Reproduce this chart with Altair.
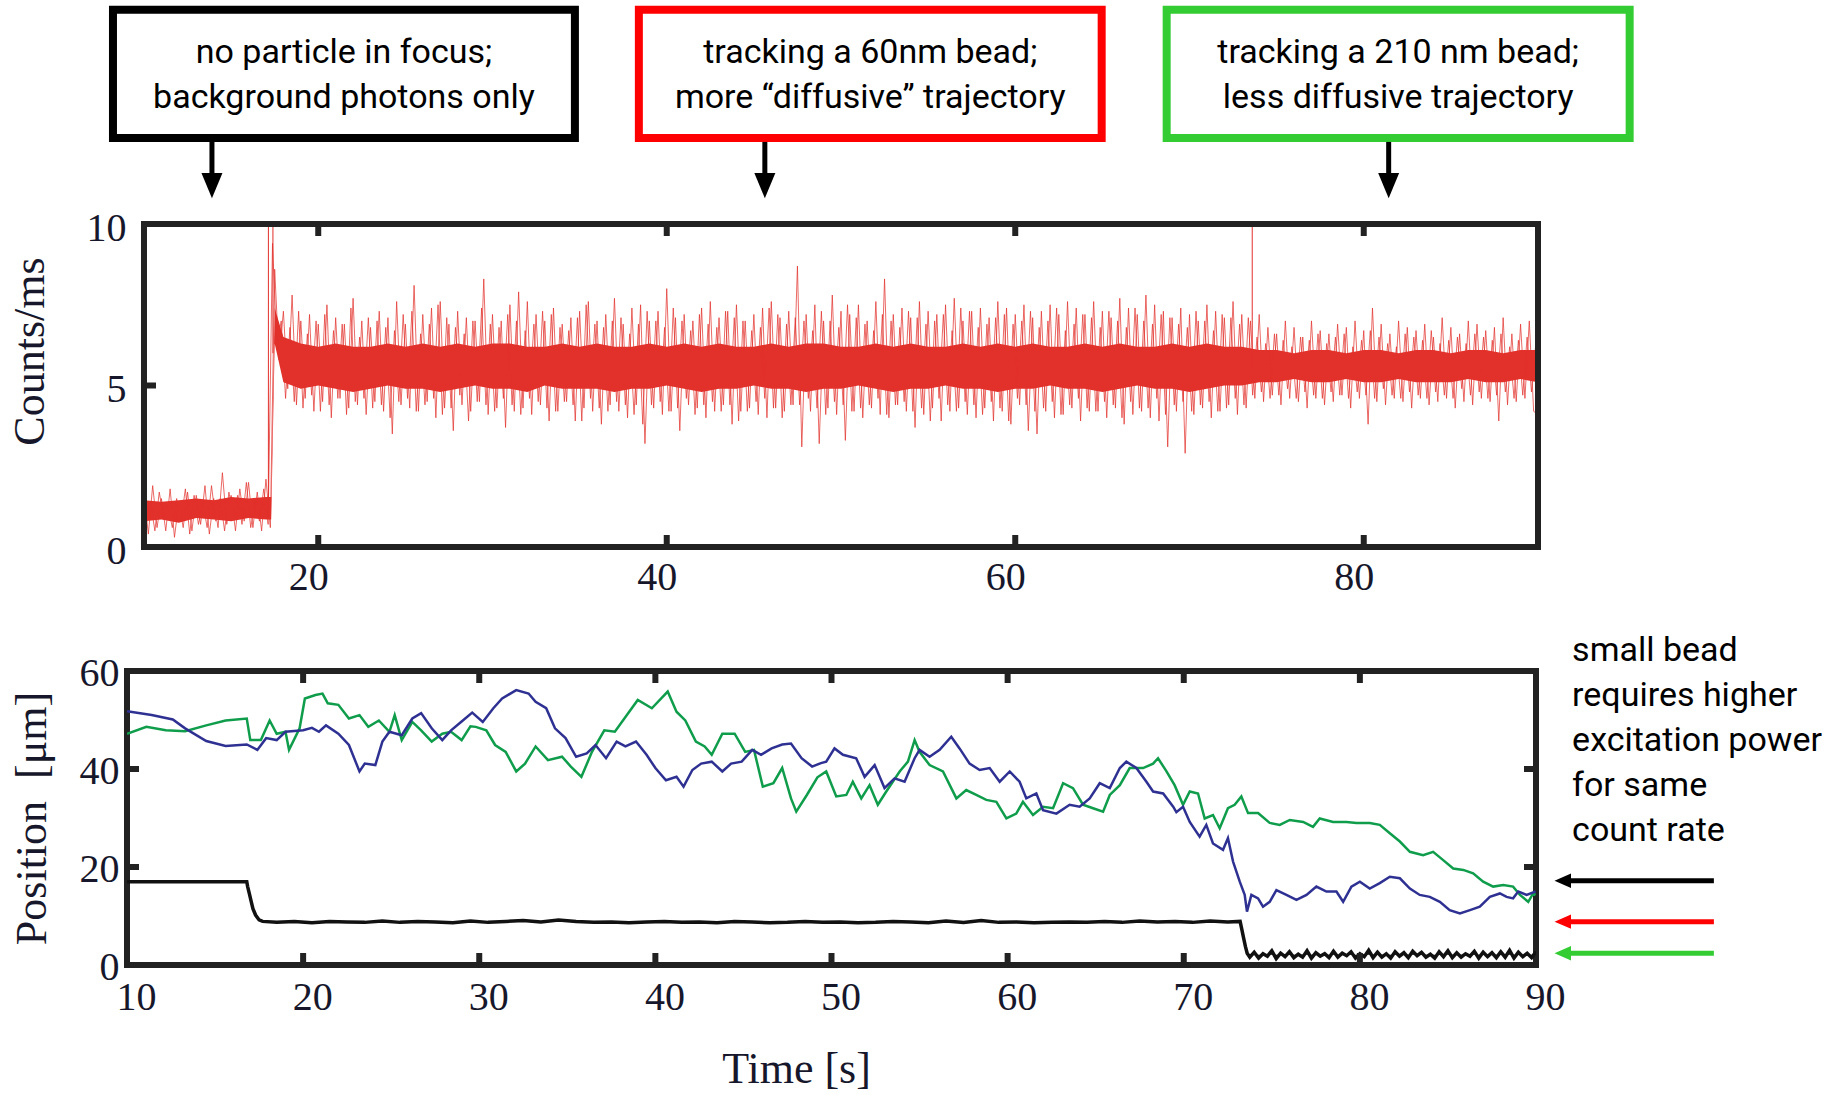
import altair as alt
import pandas as pd

# ---------------- top panel: photon count rate (Counts/ms) ----------------
# zig-zag of successive upper / lower excursions, one value every 0.25 s from t = 10 s
red_background = [1.6, 0.4, 1.9, 0.6, 1.5, 0.5, 1.8, 0.3, 1.4, 0.6,
                  1.7, 0.5, 1.6, 0.7, 1.9, 0.4, 1.5, 0.6, 2.3, 0.7,
                  1.6, 0.5, 1.8, 0.8, 2.0, 0.6, 1.7, 0.5, 2.1, 0.6]
red_bead_60nm = [8.6, 5.8, 7.3, 4.9,
                 7.8, 4.4, 7.0, 4.6,  7.2, 4.2, 6.9, 4.5,  7.5, 4.0, 7.1, 4.6,
                 6.9, 4.3, 7.7, 4.4,  7.0, 4.1, 6.8, 4.5,  7.3, 4.2, 7.1, 3.5,
                 7.6, 4.4, 6.9, 4.3,  8.1, 4.2, 7.2, 4.5,  7.4, 4.0, 7.6, 4.3,
                 6.9, 3.6, 7.3, 4.4,  7.1, 4.2, 7.0, 4.5,  8.3, 4.1, 7.2, 4.3,
                 7.0, 3.7, 7.5, 4.2,  7.9, 4.3, 7.6, 4.1,  7.2, 4.4, 7.0, 3.9,
                 7.4, 4.2, 6.9, 4.5,  7.1, 3.9, 7.3, 4.3,  7.6, 4.2, 7.0, 3.8,
                 7.2, 4.4, 7.7, 4.2,  6.9, 4.0, 7.4, 4.4,  7.5, 3.2, 7.0, 4.3,
                 7.3, 4.1, 8.0, 4.2,  7.1, 3.6, 7.2, 4.4,  7.0, 4.3, 7.4, 4.0,
                 7.6, 4.2, 7.1, 4.4,  7.3, 3.8, 7.5, 4.2,  7.0, 4.3, 7.2, 4.1,
                 7.4, 4.0, 7.6, 4.3,  7.1, 4.2, 7.3, 4.4,  8.7, 3.1, 7.2, 4.2,
                 7.5, 3.2, 7.0, 4.3,  7.8, 4.1, 7.3, 3.3,  7.2, 4.2, 7.5, 4.0,
                 7.0, 4.3, 7.6, 4.1,  8.3, 4.0, 7.2, 4.4,  7.4, 4.2, 7.1, 3.7,
                 7.6, 4.1, 7.3, 4.3,  7.2, 3.9, 7.5, 4.2,  7.7, 4.3, 7.0, 4.1,
                 7.3, 4.0, 7.4, 4.3,  7.1, 3.9, 7.6, 4.2,  7.4, 3.8, 7.2, 4.4,
                 7.5, 3.6, 7.1, 3.5,  7.3, 4.2, 7.5, 4.0,  7.2, 4.1, 7.6, 4.3,
                 7.4, 3.9, 7.2, 4.2,  7.6, 4.2, 7.3, 4.0,  7.1, 4.3, 7.7, 3.8,
                 7.4, 4.1, 7.2, 4.2,  7.8, 4.0, 7.5, 3.9,  7.3, 3.1, 7.1, 4.2,
                 7.4, 2.9, 7.2, 4.1,  7.0, 4.3, 7.5, 4.0,  7.3, 4.2, 7.1, 4.4,
                 7.6, 4.1, 7.2, 4.3,
                 7.0]
red_bead_210nm = [4.6,
                  7.2, 4.5, 6.8, 4.7,  6.6, 4.4, 7.0, 4.6,  6.8, 4.5, 6.5, 4.3,
                  7.0, 4.6, 6.7, 4.4,  6.6, 4.5, 6.9, 4.7,  6.8, 4.3, 7.0, 4.6,
                  6.7, 3.8, 7.4, 4.5,  6.9, 4.4, 6.6, 4.6,  7.0, 4.5, 6.8, 4.3,
                  6.7, 4.6, 6.9, 4.4,  6.5, 4.5, 7.1, 4.6,  6.8, 4.3, 6.6, 4.5,
                  7.0, 4.4, 6.9, 4.6,  6.7, 4.5, 6.8, 3.9,  7.1, 4.4, 6.6, 4.5,
                  6.9, 4.6, 7.0, 4.2,
                  4.1]
red_counts = red_background + red_bead_60nm + red_bead_210nm
red_time = [10 + 0.25 * i for i in range(len(red_counts))]

# in-between samples (t = 10.125 s + 0.25 s steps), opposite phase
red2_background = [0.7, 1.4, 0.5, 1.7, 0.9, 1.3, 0.6, 1.5, 0.8, 1.8,
                   0.4, 1.6, 0.7, 1.4, 0.6, 1.9, 0.8, 1.5, 0.5, 1.7,
                   0.9, 1.6, 0.7, 2.0, 0.6, 1.4, 0.8, 1.8, 0.7]
red2_bead_60nm = [9.4, 6.2, 7.0, 4.6,
                  6.8, 4.5, 7.3, 4.3,  6.6, 4.7, 7.0, 4.2,  7.2, 4.4, 6.7, 4.6,
                  6.9, 4.1, 7.4, 4.5,  6.5, 4.6, 7.1, 4.3,  7.0, 4.4, 6.8, 4.0,
                  6.7, 4.5, 7.2, 4.6,  7.3, 4.2, 6.6, 4.4,  6.9, 4.6, 7.5, 4.1,
                  7.1, 4.3, 6.8, 4.7,  6.6, 3.9, 7.0, 4.5,  7.4, 4.4, 6.9, 4.2,
                  6.8, 4.6, 7.2, 4.4,  7.0, 4.1, 6.7, 4.6,  6.9, 4.5, 7.3, 4.3,
                  7.2, 4.2, 6.8, 4.5,  6.7, 4.4, 7.1, 3.9,  7.5, 4.6, 6.9, 4.3,
                  6.8, 4.2, 7.0, 4.5,  7.1, 4.4, 6.6, 4.1,  6.9, 3.8, 7.3, 4.4,
                  7.0, 4.5, 6.8, 4.2,  7.4, 4.3, 7.0, 4.6,  6.7, 4.1, 7.2, 4.4,
                  6.9, 4.5, 6.8, 4.2,  7.3, 4.4, 7.1, 3.9,  7.0, 4.2, 6.7, 4.5,
                  6.8, 4.6, 7.4, 4.3,  7.2, 4.0, 6.9, 4.4,  7.1, 4.4, 7.0, 4.6,
                  6.7, 4.3, 7.3, 4.1,  7.0, 4.5, 6.8, 4.4,  7.5, 4.2, 7.1, 4.3,
                  6.9, 4.4, 6.7, 4.6,  7.2, 4.1, 7.0, 4.4,  6.8, 4.5, 7.3, 4.2,
                  7.1, 4.3, 6.9, 3.9,  7.0, 4.6, 7.2, 4.4,  6.7, 4.2, 7.4, 4.5,
                  7.3, 4.4, 6.8, 4.1,  6.9, 4.5, 7.1, 4.3,  7.2, 3.9, 6.9, 4.6,
                  7.0, 4.4, 7.3, 4.2,  6.8, 4.3, 7.0, 4.5,  7.4, 4.1, 6.7, 4.4,
                  6.9, 4.6, 7.2, 4.3,  7.1, 4.2, 6.8, 4.5,  7.3, 4.4, 7.0, 4.0,
                  6.8, 4.5, 7.4, 4.3,  7.0, 4.3, 6.9, 4.6,  7.2, 4.1, 7.1, 4.4,
                  6.9, 4.5, 6.8, 4.2,  7.3, 4.4, 7.0, 4.5,  6.7, 4.2, 7.2, 4.3,
                  7.1, 4.6, 6.9, 4.4,
                  7.1]
red2_bead_210nm = [4.7,
                   6.5, 4.8, 6.3, 4.6,  6.6, 4.7, 6.4, 4.9,  6.2, 4.6, 6.5, 4.8,
                   6.4, 4.7, 6.6, 4.6,  6.3, 4.8, 6.5, 4.7,  6.6, 4.6, 6.2, 4.8,
                   6.4, 4.7, 6.7, 4.6,  6.5, 4.9, 6.3, 4.7,  6.2, 4.6, 6.6, 4.8,
                   6.5, 4.7, 6.4, 4.6,  6.7, 4.8, 6.3, 4.7,  6.4, 4.6, 6.5, 4.9,
                   6.3, 4.7, 6.6, 4.8,  6.5, 4.6, 6.4, 4.7,  6.6, 4.8, 6.2, 4.6,
                   6.4, 4.7, 6.5, 4.8,
                   6.3]
red2_counts = red2_background + red2_bead_60nm + red2_bead_210nm
red2_time = [10.125 + 0.25 * i for i in range(len(red2_counts))]

# dense core of the count-rate trace
core_time = [10, 11, 12, 13, 14, 15, 16, 17, 17.3, 17.5] + list(range(18, 91))
core_low = ([0.8, 0.85, 0.75, 0.9, 0.85, 0.8, 0.9, 0.85, 0.85, 6.3, 5.1]
            + [4.9, 5.0, 4.9, 4.8, 4.9, 5.0, 4.9, 4.9, 4.8, 4.9,
               5.0, 4.9, 4.9, 4.8, 5.0, 4.9, 4.9, 4.9, 4.8, 4.9,
               4.9, 5.0, 4.9, 4.8, 4.9, 4.9, 5.0, 4.9, 4.9, 4.8,
               4.9, 4.9, 5.0, 4.9, 4.8, 4.9, 4.9, 5.0, 4.9, 4.9,
               4.8, 4.9, 4.9, 5.0, 4.9, 4.9, 4.8, 4.9, 5.0, 4.9,
               4.9, 4.8, 4.9, 5.0, 5.0]
            + [5.1, 5.1, 5.2, 5.1, 5.1, 5.2, 5.1, 5.1, 5.2, 5.1, 5.1, 5.1, 5.2, 5.1, 5.1, 5.2, 5.1])
core_high = ([1.45, 1.4, 1.45, 1.5, 1.45, 1.55, 1.5, 1.55, 1.55, 7.4, 6.5]
             + [6.3, 6.2, 6.3, 6.2, 6.2, 6.3, 6.2, 6.3, 6.2, 6.3,
                6.2, 6.3, 6.3, 6.2, 6.2, 6.3, 6.2, 6.3, 6.2, 6.2,
                6.3, 6.2, 6.3, 6.2, 6.3, 6.2, 6.2, 6.3, 6.2, 6.3,
                6.3, 6.2, 6.2, 6.3, 6.2, 6.3, 6.2, 6.2, 6.3, 6.2,
                6.3, 6.2, 6.3, 6.2, 6.2, 6.3, 6.2, 6.3, 6.2, 6.2,
                6.3, 6.2, 6.3, 6.2, 6.2]
             + [6.1, 6.1, 6.0, 6.1, 6.1, 6.0, 6.1, 6.1, 6.0, 6.1, 6.1, 6.0, 6.1, 6.1, 6.0, 6.1, 6.1])

# single saturating bursts
burst_time = [17.14, 17.4, 73.6]
burst_low = [1.5, 6.0, 5.6]
burst_high = [10, 10, 10]

# ---------------- bottom panel: positions ----------------
blue_time = [10.0, 11.4, 12.6, 13.3, 14.5, 15.6, 16.8, 17.4, 17.9, 18.5, 19.0, 20.0, 20.5, 20.9,
             21.3, 22.0, 22.6, 23.2, 23.5, 24.1, 24.5, 24.9, 25.6, 26.2, 26.7, 27.3, 27.9, 28.4,
             29.0, 29.6, 30.2, 30.8, 31.3, 32.1, 32.8, 33.2, 33.8, 34.3, 34.9, 35.5, 36.1, 36.6,
             37.2, 37.8, 38.3, 38.9, 39.5, 40.0, 40.6, 41.2, 41.6, 42.1, 42.6, 43.2, 43.8, 44.3,
             44.9, 45.5, 46.0, 46.6, 47.2, 47.7, 48.3, 48.9, 49.4, 49.7, 50.17, 50.65, 51.4, 51.88,
             52.45, 53.01, 53.58, 54.15, 54.72, 55.0, 55.57, 56.14, 56.8, 57.27, 57.84, 58.41,
             58.98, 59.55, 60.12, 60.68, 61.06, 61.63, 62.01, 62.77, 63.52, 64.09, 64.66, 65.23,
             65.8, 66.37, 66.74, 67.31, 67.88, 68.26, 68.83, 69.4, 69.58, 69.96, 70.34, 70.9,
             71.28, 71.66, 72.23, 72.51, 72.8, 73.18, 73.46, 73.59, 73.84, 74.22, 74.5, 74.88,
             75.26, 75.83, 76.4, 76.97, 77.53, 78.1, 78.67, 79.05, 79.52, 80.0, 80.56, 81.13,
             81.7, 82.27, 82.84, 83.4, 83.97, 84.54, 85.1, 85.68, 86.25, 86.81, 87.38, 87.95,
             88.33, 88.7, 88.99, 89.47, 89.98]
blue_pos = [51.8, 51.0, 50.1, 48.3, 45.7, 44.7, 45.0, 43.9, 46.3, 45.9, 47.6, 47.9, 48.4, 47.6,
            48.9, 47.2, 44.9, 39.5, 41.1, 40.8, 45.6, 47.6, 46.9, 50.3, 51.4, 48.3, 45.9, 47.9,
            49.7, 51.5, 49.6, 52.4, 54.4, 56.1, 55.4, 53.7, 52.4, 48.3, 46.3, 42.5, 43.2, 44.9,
            42.2, 45.6, 44.6, 45.6, 42.9, 40.2, 37.7, 38.4, 36.4, 39.8, 41.1, 41.5, 39.5, 41.1,
            41.5, 43.9, 42.9, 44.2, 45.0, 45.2, 42.2, 40.5, 41.2, 41.5, 44.2, 42.9, 42.2, 38.4,
            40.8, 36.1, 38.1, 37.4, 42.2, 43.9, 42.5, 43.9, 46.6, 44.2, 41.1, 39.8,
            40.2, 37.4, 39.5, 37.4, 34.0, 35.0, 31.6, 30.9, 32.7, 32.3, 34.0, 37.1,
            36.1, 40.2, 41.5, 40.2, 37.4, 35.4, 35.0, 32.3, 31.2, 32.3, 29.2, 26.2,
            28.6, 24.8, 23.5, 25.9, 21.1, 17.0, 14.3, 10.9, 14.3, 13.6, 11.9, 12.9,
            15.3, 14.3, 13.3, 14.3, 16.0, 15.0, 15.0, 12.9, 16.0, 17.0, 15.6, 16.7,
            18.0, 17.7, 15.6, 14.3, 13.9, 12.9, 11.2, 10.5, 11.2, 11.9, 13.9, 14.6,
            13.9, 13.6, 15.0, 14.3, 15.0]

green_time = [10.0, 11.1, 12.2, 13.3, 14.5, 15.6, 16.8, 17.0, 17.6, 18.1, 18.5, 19.0, 19.2, 19.8,
              20.1, 20.7, 21.1, 21.4, 22.0, 22.6, 23.2, 23.7, 24.3, 24.9, 25.2, 25.6, 26.2, 26.7,
              27.3, 27.9, 28.4, 29.0, 29.5, 29.8, 30.4, 30.9, 31.5, 32.1, 32.6, 33.2, 33.9, 34.7,
              35.2, 35.8, 36.4, 37.1, 37.7, 38.3, 39.0, 39.8, 40.7, 41.2, 41.7, 42.3, 42.8, 43.2,
              43.8, 44.5, 45.1, 45.6, 46.1, 46.7, 47.2, 47.7, 48.0, 48.6, 49.2, 49.7, 50.27, 50.84,
              51.21, 51.69, 52.16, 52.63, 53.11, 53.87, 54.34, 54.72, 55.0, 55.57, 56.33, 57.09,
              57.65, 58.22, 58.79, 59.36, 59.93, 60.49, 60.87, 61.44, 62.01, 62.58, 63.15, 63.71,
              64.28, 64.85, 65.42, 65.8, 66.37, 66.93, 67.69, 68.26, 68.54, 69.02, 69.48, 69.96,
              70.34, 70.81, 71.19, 71.66, 72.04, 72.51, 72.89, 73.27, 73.65, 74.22, 74.88, 75.45,
              76.02, 76.78, 77.34, 77.72, 78.48, 79.24, 79.81, 80.56, 81.13, 81.7, 82.27, 82.84,
              83.59, 84.16, 84.73, 85.3, 85.87, 86.43, 87.0, 87.57, 88.14, 88.7, 89.09, 89.56,
              89.84, 89.98]
green_pos = [47.2, 48.6, 47.9, 47.7, 48.9, 49.9, 50.3, 45.9, 45.9, 49.9, 47.2, 47.6, 43.9, 48.3,
             54.4, 55.1, 55.4, 53.4, 53.1, 50.3, 51.0, 48.6, 49.9, 47.6, 51.0, 45.9, 49.6, 47.9,
             45.6, 47.2, 47.6, 45.9, 48.7, 48.6, 47.9, 44.9, 43.5, 39.5, 41.1, 44.6, 41.8, 42.5,
             40.5, 38.4, 43.5, 47.9, 47.6, 50.6, 54.1, 52.4, 55.8, 51.7, 49.9, 45.6, 44.6, 42.9,
             47.2, 47.2, 43.5, 43.9, 36.4, 37.1, 40.2, 34.0, 31.3, 34.7, 38.3, 39.5, 34.4, 34.7,
             37.4, 34.0, 36.7, 32.7, 35.4, 39.5, 41.5, 45.9, 43.5, 40.8, 39.5, 34.0,
             35.7, 34.7, 33.7, 33.3, 29.9, 30.9, 33.3, 30.6, 32.3, 32.0, 37.1, 36.1,
             32.7, 32.0, 31.3, 34.7, 36.7, 40.2, 40.2, 41.1, 42.2, 39.5, 36.7, 32.7,
             35.4, 35.0, 29.9, 30.6, 27.9, 32.0, 32.7, 34.4, 31.0, 31.0, 29.0, 28.6,
             29.6, 29.2, 28.2, 29.9, 29.2, 29.2, 29.0, 29.0, 28.6, 26.9, 25.2, 23.1,
             22.4, 23.1, 21.4, 19.7, 19.4, 18.7, 17.0, 16.0, 16.3, 16.0, 14.3, 12.9,
             14.6, 14.3]

black_time = [10.0, 16.8, 16.85, 16.95, 17.05, 17.15, 17.3, 17.5, 17.7,
              18.5, 19.5, 20.5, 21.5, 22.5, 23.5, 24.5, 25.5, 26.5, 27.5, 28.5, 29.5, 30.5,
              31.5, 32.5, 33.5, 34.5, 35.5, 36.5, 37.5, 38.5, 39.5, 40.5, 41.5, 42.5, 43.5,
              44.5, 45.5, 46.5, 47.5, 48.5, 49.5, 50.5, 51.5, 52.5, 53.5, 54.5, 55.5, 56.5,
              57.5, 58.5, 59.5, 60.5, 61.5, 62.5, 63.5, 64.5, 65.5, 66.5, 67.5, 68.5, 69.5,
              70.5, 71.5, 72.5, 73.2, 73.3, 73.4, 73.5, 73.6]
black_pos = [17.0, 17.0, 16.0, 14.5, 13.0, 11.5, 10.2, 9.2, 8.9,
             8.7, 8.9, 8.6, 8.9, 8.8, 8.7, 9.0, 8.7, 8.9, 8.8, 8.6, 9.0, 8.7,
             8.9, 9.1, 8.8, 9.2, 8.9, 8.7, 8.8, 8.6, 8.8, 8.9, 8.7, 8.8, 8.6,
             8.9, 8.8, 8.6, 8.7, 8.9, 8.7, 8.8, 8.6, 8.7, 8.9, 8.8, 8.6, 9.0,
             8.7, 9.1, 8.7, 8.8, 8.6, 8.7, 8.8, 8.7, 8.9, 8.7, 9.0, 8.8, 8.9,
             8.7, 9.0, 8.8, 8.9, 7.2, 5.5, 3.8, 2.4]
# 210 nm bead level: zig-zag every 0.25 s from t = 73.75 s, around a mean of 2.1
black_late_mean = 2.1
black_late = [1.6, 2.6, 1.4, 2.3, 1.8, 2.9, 1.3, 2.4, 1.7, 2.7,
              1.5, 2.2, 1.6, 2.9, 1.4, 2.5, 1.8, 2.3, 1.5, 2.8,
              1.6, 2.4, 1.9, 2.7, 1.4, 2.3, 1.7, 3.0, 1.5, 2.6,
              1.6, 2.3, 1.4, 2.7, 1.8, 2.5, 1.5, 2.8, 1.9, 2.6,
              1.6, 2.2, 1.4, 2.7, 1.7, 2.9, 1.5, 2.5, 1.6, 2.3,
              1.8, 2.8, 1.4, 2.6, 1.7, 2.5, 1.5, 2.7, 1.6, 3.0,
              1.4, 2.6, 1.7, 2.4, 1.5, 2.7]
black_late_time = [73.75 + 0.25 * i for i in range(len(black_late))]
black_time_all = black_time + black_late_time
black_pos_all = black_pos + black_late

# ---------------- annotations ----------------
box_text_1 = ["no particle in focus;", "tracking a 60nm bead;", "tracking a 210 nm bead;"]
box_text_2 = ["background photons only", "more \u201cdiffusive\u201d trajectory", "less diffusive trajectory"]
box_colors = ["#000000", "#ff0000", "#33cc33"]
box_left = [8.22, 38.40, 68.69]
box_right = [34.73, 64.96, 95.26]
box_bottom, box_top = 12.66, 16.63
box_line1_y, box_line2_y = 14.97, 13.58
arrow_x = [13.90, 45.63, 81.43]
arrow_top, arrow_bottom, arrow_head = 12.54, 11.52, 11.19

side_lines = ["small bead", "requires higher", "excitation power", "for same", "count rate"]
side_y = [62.0, 52.8, 43.65, 34.45, 25.25]
side_x = 92.05
level_arrow_y = [17.2, 8.84, 2.39]
level_arrow_colors = ["#000000", "#ff0000", "#33cc33"]
level_arrow_tail, level_arrow_base, level_arrow_head = 100.1, 91.9, 91.52

# ---------------- styling ----------------
RED = "#e2302b"
BLUE = "#2e3192"
GREEN = "#0f9d4c"
FRAME = "#222222"
SERIF = "Liberation Serif"
SANS = "Liberation Sans Narrow, Roboto, sans-serif"
TXT = 34
W_TOP, H_TOP = 1411, 323
W_BOT, H_BOT = 1409, 294

# the top panel's frame starts a little to the right of the bottom panel's frame
xs_top = alt.Scale(domain=[9.025, 90], nice=False, zero=False)
ys_top = alt.Scale(domain=[0, 10], nice=False)
xs_bot = alt.Scale(domain=[10, 90], nice=False, zero=False)
ys_bot = alt.Scale(domain=[0, 60], nice=False)

# ---------------- top panel ----------------
core_df = pd.DataFrame({"t": core_time, "lo": core_low, "hi": core_high})
red_df = pd.DataFrame({"t": red_time, "v": red_counts})
red2_df = pd.DataFrame({"t": red2_time, "v": red2_counts})
burst_df = pd.DataFrame({"t": burst_time, "lo": burst_low, "hi": burst_high})

core = alt.Chart(core_df).mark_area(color=RED, clip=True).encode(
    x=alt.X("t:Q", scale=xs_top,
            axis=alt.Axis(values=[20, 40, 60, 80], title=None, labelOffset=-10, labelPadding=10)),
    y=alt.Y("lo:Q", scale=ys_top,
            axis=alt.Axis(values=[0, 5, 10], title="Counts/ms", labelPadding=1, titlePadding=34,
                          titleY=127, labelOffset=4)),
    y2="hi:Q",
)
zig = alt.Chart(red_df).mark_line(color=RED, strokeWidth=1, opacity=0.72, clip=True).encode(
    x=alt.X("t:Q", scale=xs_top),
    y=alt.Y("v:Q", scale=ys_top),
)
zig2 = alt.Chart(red2_df).mark_line(color=RED, strokeWidth=1, opacity=0.72, clip=True).encode(
    x=alt.X("t:Q", scale=xs_top),
    y=alt.Y("v:Q", scale=ys_top),
)
bursts = alt.Chart(burst_df).mark_rule(color=RED, strokeWidth=1, clip=True).encode(
    x=alt.X("t:Q", scale=xs_top),
    y=alt.Y("lo:Q", scale=ys_top),
    y2="hi:Q",
)

frame_df = pd.DataFrame({"x1": [10], "x2": [90], "y1": [0], "y2": [10]})
top_frame = alt.Chart(frame_df).mark_rect(filled=False, stroke=FRAME, strokeWidth=6,
                                          clip=False).encode(
    x=alt.X("x1:Q", scale=xs_top), x2="x2:Q",
    y=alt.Y("y1:Q", scale=ys_top), y2="y2:Q",
)
top_xt = pd.DataFrame({"t": [20, 40, 60, 80]})
top_yt = pd.DataFrame({"v": [5], "x1": [10], "x2": [10.69]})
tick_top_a = alt.Chart(top_xt).mark_rule(color=FRAME, strokeWidth=6).encode(
    x=alt.X("t:Q", scale=xs_top), y=alt.value(0), y2=alt.value(12))
tick_top_b = alt.Chart(top_xt).mark_rule(color=FRAME, strokeWidth=6).encode(
    x=alt.X("t:Q", scale=xs_top), y=alt.value(H_TOP), y2=alt.value(H_TOP - 12))
tick_top_l = alt.Chart(top_yt).mark_rule(color=FRAME, strokeWidth=6).encode(
    y=alt.Y("v:Q", scale=ys_top), x=alt.X("x1:Q", scale=xs_top), x2="x2:Q")

box_df = pd.DataFrame({"x1": box_left, "x2": box_right, "c": box_colors,
                       "y1": [box_bottom] * 3, "y2": [box_top] * 3})
boxes = alt.Chart(box_df).mark_rect(filled=False, strokeWidth=8, clip=False).encode(
    x=alt.X("x1:Q", scale=xs_top), x2="x2:Q",
    y=alt.Y("y1:Q", scale=ys_top), y2="y2:Q",
    stroke=alt.Stroke("c:N", scale=None),
)
txt_df = pd.DataFrame({
    "x": [(a + b) / 2 for a, b in zip(box_left, box_right)] * 2,
    "y": [box_line1_y] * 3 + [box_line2_y] * 3,
    "label": box_text_1 + box_text_2,
})
box_txt = alt.Chart(txt_df).mark_text(font=SANS, fontSize=TXT, align="center",
                                      baseline="alphabetic", color="#000000", clip=False).encode(
    x=alt.X("x:Q", scale=xs_top),
    y=alt.Y("y:Q", scale=ys_top),
    text="label:N",
)
arr_df = pd.DataFrame({"x": arrow_x, "y1": [arrow_top] * 3, "y2": [arrow_bottom] * 3,
                       "yh": [arrow_head] * 3})
arr_shaft = alt.Chart(arr_df).mark_rule(color="#000000", strokeWidth=5, clip=False).encode(
    x=alt.X("x:Q", scale=xs_top),
    y=alt.Y("y1:Q", scale=ys_top), y2="y2:Q")
arr_head = alt.Chart(arr_df).mark_point(shape="M-1,-1.2L1,-1.2L0,1.2Z", filled=True, size=441,
                                        color="#000000", opacity=1, clip=False).encode(
    x=alt.X("x:Q", scale=xs_top),
    y=alt.Y("yh:Q", scale=ys_top))

top = alt.layer(core, zig, zig2, bursts, top_frame, tick_top_a, tick_top_b, tick_top_l,
                boxes, box_txt, arr_shaft, arr_head).properties(
    width=W_TOP, height=H_TOP, view=alt.ViewBackground(stroke=None))

# ---------------- bottom panel ----------------
blue_df = pd.DataFrame({"t": blue_time, "v": blue_pos})
green_df = pd.DataFrame({"t": green_time, "v": green_pos})
black_df = pd.DataFrame({"t": black_time_all, "v": black_pos_all})
black_band_df = pd.DataFrame({"t": black_late_time, "v": black_late,
                              "m": [black_late_mean] * len(black_late)})

black_line = alt.Chart(black_df).mark_line(color="#111111", strokeWidth=3.5, clip=True).encode(
    x=alt.X("t:Q", scale=xs_bot,
            axis=alt.Axis(values=[10, 20, 30, 40, 50, 60, 70, 80, 90], title="Time [s]",
                          labelOffset=9, labelPadding=12, titlePadding=30, titleX=669)),
    y=alt.Y("v:Q", scale=ys_bot,
            axis=alt.Axis(values=[0, 20, 40, 60], title="Position\u00a0 [\u03bcm]",
                          labelPadding=8, titlePadding=25, labelOffset=2)),
)
black_band = alt.Chart(black_band_df).mark_area(color="#111111", clip=True).encode(
    x=alt.X("t:Q", scale=xs_bot),
    y=alt.Y("v:Q", scale=ys_bot),
    y2="m:Q",
)
green_line = alt.Chart(green_df).mark_line(color=GREEN, strokeWidth=2.5, clip=True).encode(
    x=alt.X("t:Q", scale=xs_bot),
    y=alt.Y("v:Q", scale=ys_bot),
)
blue_line = alt.Chart(blue_df).mark_line(color=BLUE, strokeWidth=2.5, clip=True).encode(
    x=alt.X("t:Q", scale=xs_bot),
    y=alt.Y("v:Q", scale=ys_bot),
)

bot_xt = pd.DataFrame({"t": [20, 30, 40, 50, 60, 70, 80]})
bot_yt = pd.DataFrame({"v": [20, 40]})
tick_b_a = alt.Chart(bot_xt).mark_rule(color=FRAME, strokeWidth=6).encode(
    x=alt.X("t:Q", scale=xs_bot), y=alt.value(0), y2=alt.value(12))
tick_b_b = alt.Chart(bot_xt).mark_rule(color=FRAME, strokeWidth=6).encode(
    x=alt.X("t:Q", scale=xs_bot), y=alt.value(H_BOT), y2=alt.value(H_BOT - 12))
tick_b_l = alt.Chart(bot_yt).mark_rule(color=FRAME, strokeWidth=6).encode(
    y=alt.Y("v:Q", scale=ys_bot), x=alt.value(0), x2=alt.value(12))
tick_b_r = alt.Chart(bot_yt).mark_rule(color=FRAME, strokeWidth=6).encode(
    y=alt.Y("v:Q", scale=ys_bot), x=alt.value(W_BOT), x2=alt.value(W_BOT - 12))

side_df = pd.DataFrame({"x": [side_x] * len(side_lines), "y": side_y, "label": side_lines})
side_txt = alt.Chart(side_df).mark_text(font=SANS, fontSize=TXT, align="left",
                                        baseline="alphabetic", color="#000000", clip=False).encode(
    x=alt.X("x:Q", scale=xs_bot),
    y=alt.Y("y:Q", scale=ys_bot),
    text="label:N",
)
lvl_df = pd.DataFrame({"y": level_arrow_y, "c": level_arrow_colors,
                       "x1": [level_arrow_base] * 3, "x2": [level_arrow_tail] * 3,
                       "xh": [level_arrow_head] * 3})
lvl_shaft = alt.Chart(lvl_df).mark_rule(strokeWidth=5, clip=False).encode(
    x=alt.X("x1:Q", scale=xs_bot), x2="x2:Q",
    y=alt.Y("y:Q", scale=ys_bot),
    color=alt.Color("c:N", scale=None),
)
lvl_head = alt.Chart(lvl_df).mark_point(shape="M1,-0.87L1,0.87L-1,0Z", filled=True, size=272,
                                        opacity=1, clip=False).encode(
    x=alt.X("xh:Q", scale=xs_bot),
    y=alt.Y("y:Q", scale=ys_bot),
    color=alt.Color("c:N", scale=None),
)

bottom = alt.layer(black_line, black_band, green_line, blue_line, tick_b_a, tick_b_b, tick_b_l,
                   tick_b_r, side_txt, lvl_shaft, lvl_head).properties(width=W_BOT, height=H_BOT)

chart = alt.concat(top, bottom, columns=1, align="none", spacing=34).properties(
    padding={"left": 6, "top": 5, "right": 5, "bottom": 5},
    background="white",
).configure_view(
    stroke=FRAME, strokeWidth=6,
).configure_axis(
    domain=False, ticks=False, tickSize=0, grid=False,
    labelFont=SERIF, labelFontSize=40, labelColor="#17172b",
    labelFlush=False, labelOverlap=False,
    titleFont=SERIF, titleFontSize=44, titleFontWeight="normal", titleColor="#17172b",
)

chart.save("out.html", embed_options={"renderer": "svg", "actions": False})
